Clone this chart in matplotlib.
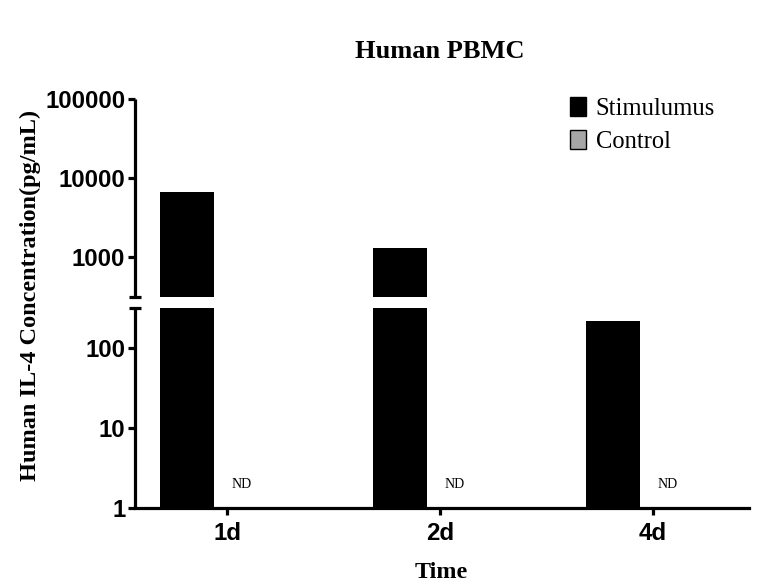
import numpy as np
import matplotlib
matplotlib.use("Agg")
from matplotlib import pyplot as plt
from matplotlib.patches import Patch

# data
timeLabels = ["1d", "2d", "4d"]
stimValues = [6600, 1330, 215]
controlValues = [0, 0, 0]   # not detected
controlText = ["ND", "ND", "ND"]
lowerTicks = [1, 10, 100]
upperTicks = [1000, 10000, 100000]
breakVal = 10**2.5

serif = "Liberation Serif"
sans = "Liberation Sans"

fig = plt.figure(figsize=(7.65, 5.87), dpi=100)
axLow = fig.add_axes([135/765., 79/587., 614/765., 200/587.])
axUp = fig.add_axes([135/765., 290/587., 614/765., 198/587.], sharex=axLow)

x = np.arange(len(timeLabels))
step = 213.
barW = 54/step
stimX = x - 40/step
ctrlX = x + 15/step

for ax in (axLow, axUp):
    ax.bar(stimX, stimValues, width=barW, bottom=1, color="black", edgecolor="none")
    ax.set_yscale("log")
    for s in ["top", "right"]:
        ax.spines[s].set_visible(False)
    ax.spines["left"].set_linewidth(2.3)
    ax.spines["left"].set_capstyle("butt")
    ax.tick_params(axis="y", which="major", direction="out", length=5, width=2.3, pad=2)
    ax.set_yticks([breakVal], minor=True)
    ax.tick_params(axis="y", which="minor", direction="inout", length=8, width=2.3)
    ax.yaxis.set_minor_formatter(matplotlib.ticker.NullFormatter())

axLow.set_ylim(1, breakVal)
axUp.set_ylim(breakVal, 100000)
axLow.set_xlim(-0.432, 2.451)

axLow.set_yticks(lowerTicks)
axLow.set_yticklabels([str(t) for t in lowerTicks])
axUp.set_yticks(upperTicks)
axUp.set_yticklabels([str(t) for t in upperTicks])

axLow.spines["bottom"].set_linewidth(2.3)
axLow.set_xticks(x)
axLow.set_xticklabels(timeLabels)
axLow.tick_params(axis="x", direction="out", length=5, width=2.3, pad=5)
axUp.spines["bottom"].set_visible(False)
axUp.tick_params(axis="x", which="both", bottom=False, labelbottom=False)

for ax in (axLow, axUp):
    for lab in ax.get_yticklabels() + ax.get_xticklabels():
        lab.set_fontfamily(sans)
        lab.set_fontweight("bold")
        lab.set_fontsize(17.3)

for i in range(len(timeLabels)):
    if controlValues[i] == 0:
        axLow.text(ctrlX[i], 1.95, controlText[i], ha="center", va="center",
                   fontfamily=serif, fontsize=10)

fig.text(440/765., 1 - 51/587., "Human PBMC", ha="center", va="center",
         fontfamily=serif, fontweight="bold", fontsize=19)
fig.text(441/765., 1 - 573/587., "Time", ha="center", va="center",
         fontfamily=serif, fontweight="bold", fontsize=17.3)
fig.text(30/765., 1 - 295/587., "Human IL-4 Concentration(pg/mL)", rotation=90,
         ha="center", va="center", fontfamily=serif, fontweight="bold", fontsize=17.5)

handles = [Patch(facecolor="black", edgecolor="black", label="Stimulumus"),
           Patch(facecolor="#a6a6a6", edgecolor="black", label="Control")]
leg = axUp.legend(handles=handles, loc="upper left", bbox_to_anchor=(560/765., 1 - 87/587.),
                  bbox_transform=fig.transFigure, frameon=False,
                  prop={"family": serif, "size": 17.7}, handlelength=0.65, handleheight=0.81,
                  handletextpad=0.4, labelspacing=0.4, borderaxespad=0)

plt.savefig("out.png", dpi=100)
